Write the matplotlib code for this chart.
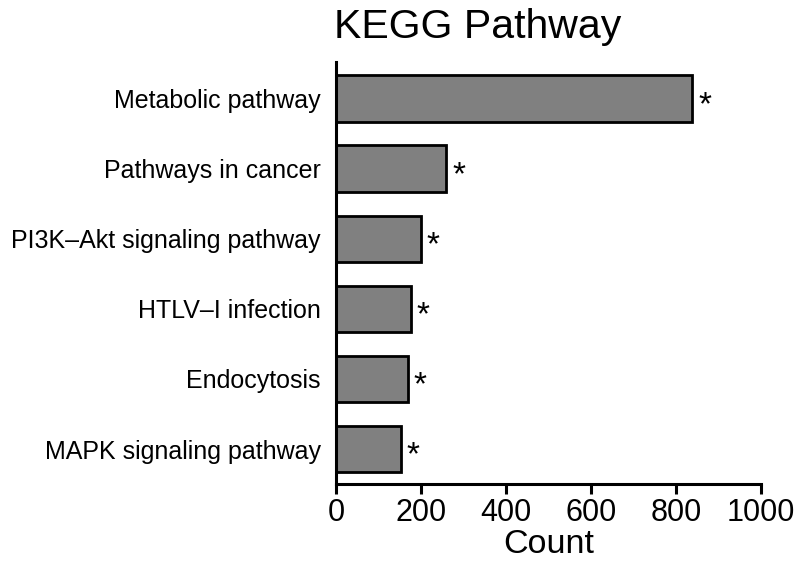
import matplotlib
matplotlib.use("Agg")
import matplotlib.pyplot as plt

categories = ["Metabolic pathway", "Pathways in cancer", "PI3K\u2013Akt signaling pathway",
              "HTLV\u2013I infection", "Endocytosis", "MAPK signaling pathway"]
counts = [839, 260, 199, 176, 169, 153]
marks = ["*"] * 6
xticks = [0, 200, 400, 600, 800, 1000]

plt.rcParams['font.family'] = ['Liberation Sans', 'DejaVu Sans']
fig = plt.figure(figsize=(8.0, 5.63), dpi=100)
ax = fig.add_axes([0.42, 0.140, 0.531, 0.750])

y = list(range(len(categories)))
ax.barh(y, counts, height=0.66, color="#808080", edgecolor="black", linewidth=2.0)
for yi, c, m in zip(y, counts, marks):
    ax.text(c + 14, yi + 0.1, m, ha="left", va="center", fontsize=24)

ax.set_ylim(5.5, -0.52)
ax.set_xlim(0, 1000)
ax.set_yticks(y)
ax.set_yticklabels(categories, fontsize=18)
ax.set_xticks(xticks)
ax.set_xticklabels([str(t) for t in xticks], fontsize=22)
ax.tick_params(axis="y", length=0, pad=11)
ax.tick_params(axis="x", length=7, width=2.2, pad=3)
for s in ["top", "right"]:
    ax.spines[s].set_visible(False)
for s in ["left", "bottom"]:
    ax.spines[s].set_linewidth(2.2)
ax.set_xlabel("Count", fontsize=24.5, labelpad=1)
fig.text(0.597, 0.952, "KEGG Pathway", ha="center", va="center", fontsize=29.5)

fig.savefig("out.png", dpi=100)
